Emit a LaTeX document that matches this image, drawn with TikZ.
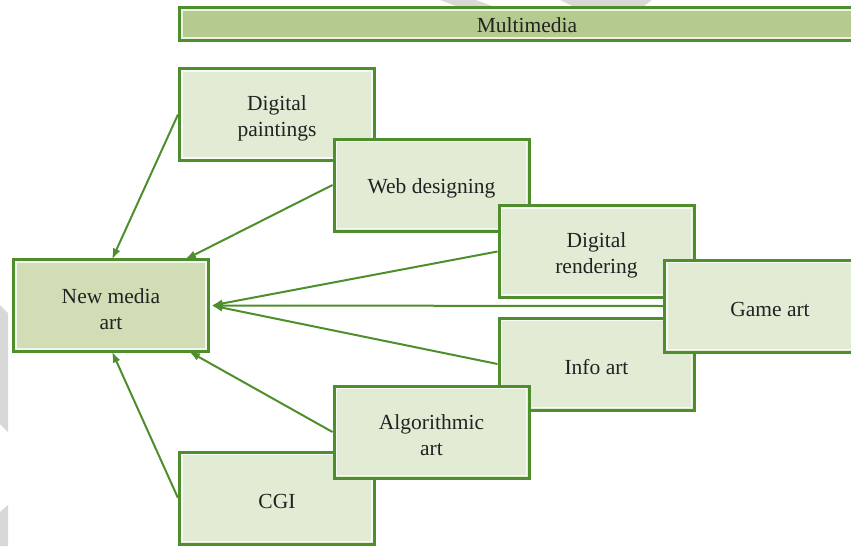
\documentclass[tikz,border=0pt]{standalone}
\usepackage{fontspec}
\setmainfont{Liberation Serif}
\usetikzlibrary{arrows.meta,calc}

\definecolor{edgegreen}{HTML}{4E8E2C}
\definecolor{paleleaf}{HTML}{E2ECD5}
\definecolor{midleaf}{HTML}{D0DDB5}
\definecolor{barleaf}{HTML}{B5CA8E}
\definecolor{inkgrey}{HTML}{222222}
\definecolor{shadegrey}{HTML}{D8D8D8}

\pgfdeclarelayer{links}
\pgfdeclarelayer{boxes}
\pgfsetlayers{main,links,boxes}

\tikzset{
  topic/.style={
    draw=edgegreen, line width=3pt, fill=paleleaf,
    minimum width=195pt, minimum height=92pt, inner sep=0pt,
    path picture={
      \draw[white, opacity=0.75, line width=1.4pt]
        ([shift={(2.4pt,-2.4pt)}]path picture bounding box.north west)
        rectangle
        ([shift={(-2.4pt,2.4pt)}]path picture bounding box.south east);
    }
  },
  caption/.style={align=center, text=inkgrey, inner sep=0pt,
    font=\fontsize{21.5}{26}\selectfont},
  says/.style={label={[caption, yshift=-3.5pt]center:{#1}}},
  hub/.style={topic, fill=midleaf},
  banner/.style={topic, fill=barleaf, minimum width=695pt, minimum height=33pt},
  feed/.style={draw=edgegreen, line width=2pt,
    -{Latex[length=11pt,width=8pt]}}
}

\begin{document}
\begin{tikzpicture}[x=1pt,y=-1pt]
  \useasboundingbox (0,0) rectangle (851,546);

  % faint background marks
  \fill[shadegrey] (440,0) -- (476,0) -- (500,9) -- (464,9) -- cycle;
  \fill[shadegrey] (560,0) -- (652,0) -- (640,9) -- (578,9) -- cycle;
  \fill[shadegrey] (0,305) -- (8,313) -- (8,432) -- (0,424) -- cycle;
  \fill[shadegrey] (0,512) -- (8,505) -- (8,546) -- (0,546) -- cycle;

  % central box
  \node[hub, says={New media\\art}] (nma) at (111,305.5) {};

  \begin{pgfonlayer}{boxes}
    \node[banner, label={[caption, yshift=-1pt]center:Multimedia}] (mm) at (527,24) {};
    \node[topic, says={Digital\\paintings}]  (dp)  at (277,114.5) {};
    \node[topic, says={Web designing}]       (wd)  at (431.5,185) {};
    \node[topic, says={Digital\\rendering}]  (dr)  at (596.5,251.5) {};
    \node[topic, says={CGI}]                 (cgi) at (277,498) {};
    \node[topic, says={Info art}]            (ia)  at (596.5,364) {};
    \node[topic, says={Algorithmic\\art}]    (aa)  at (431.5,432) {};
    \node[topic, minimum width=211pt, says={Game art}] (ga) at (770,306) {};
  \end{pgfonlayer}

  \begin{pgfonlayer}{links}
    \draw[feed] (dp.west)  -- ([xshift=1pt,yshift=-1.5pt]nma.north);
    \draw[feed] (wd.west)  -- ([xshift=74pt,yshift=-1.5pt]nma.north);
    \draw[feed] (dr.west)  -- ([xshift=1.5pt]nma.east);
    \draw[feed] (ga.west)  -- ([xshift=1.5pt]nma.east);
    \draw[feed] (ia.west)  -- ([xshift=1.5pt]nma.east);
    \draw[feed] (aa.west)  -- ([xshift=78pt,yshift=1.5pt]nma.south);
    \draw[feed] (cgi.west) -- ([xshift=1pt,yshift=1.5pt]nma.south);
  \end{pgfonlayer}
\end{tikzpicture}
\end{document}
